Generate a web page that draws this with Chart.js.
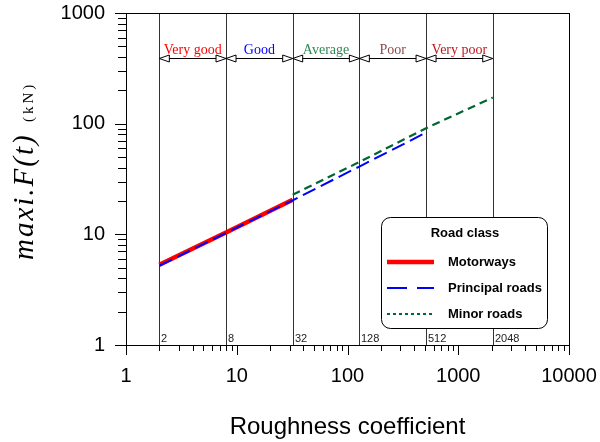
<!DOCTYPE html>
<html lang="en">
<head>
  <meta charset="UTF-8" />
  <title>Road class force vs roughness</title>
  <script src="https://cdn.jsdelivr.net/npm/chart.js@4.4.0/dist/chart.umd.min.js"></script>
  <style>
    body { margin: 0; background: #fff; }
    canvas { display: block; }
  </style>
</head>
<body>
  <canvas id="forceChart" width="600" height="442"></canvas>
  <script>
    // roughness class boundaries and names
    const bounds = [2, 8, 32, 128, 512, 2048];
    const classNames = ["Very good", "Good", "Average", "Poor", "Very poor"];
    const classColors = ["#ff0000", "#0000ff", "#2e8b57", "#8b4a4a", "#c0181e"];

    // series
    const motorX = [2, 8, 32];
    const motorY = [5.3, 10.4, 20.5];
    const principalX = [2, 8, 32, 128, 512];
    const principalY = [5.2, 10.3, 20.3, 41, 83];
    const minorX = [32, 128, 512, 2048];
    const minorY = [22.8, 45, 91, 172];

    const decadeTicks = [1, 10, 100, 1000, 10000];

    const pts = (xs, ys) => xs.map((x, i) => ({ x: x, y: ys[i] }));

    const SANS = "'Liberation Sans', Arial, sans-serif";
    const SERIF = "'Liberation Serif', 'Times New Roman', serif";

    const series = [
      { label: "Motorways", color: "#ff0000", width: 4.5, dash: [], legendDash: [], order: 3 },
      { label: "Principal roads", color: "#0000ff", width: 2, dash: [14, 6], legendDash: [20, 10], order: 1 },
      { label: "Minor roads", color: "#006633", width: 2.2, dash: [8, 5], legendDash: [3, 3], order: 2 }
    ];
    const seriesData = [pts(motorX, motorY), pts(principalX, principalY), pts(minorX, minorY)];

    const decorations = {
      id: "decorations",
      beforeDatasetsDraw(chart) {
        const { ctx, chartArea: a, scales: { x } } = chart;
        ctx.save();
        ctx.strokeStyle = "#333";
        ctx.lineWidth = 1;
        bounds.forEach(b => {
          const px = Math.round(x.getPixelForValue(b)) + 0.5;
          ctx.beginPath();
          ctx.moveTo(px, a.top);
          ctx.lineTo(px, a.bottom);
          ctx.stroke();
          ctx.fillStyle = "#222";
          ctx.font = "11px " + SANS;
          ctx.textAlign = "left";
          ctx.textBaseline = "alphabetic";
          ctx.fillText(String(b), px + 1.5, a.bottom - 3);
        });
        ctx.restore();
      },
      afterDatasetsDraw(chart) {
        const { ctx, chartArea: a, scales: { x, y } } = chart;
        ctx.save();
        // frame
        ctx.strokeStyle = "#000";
        ctx.lineWidth = 1;
        ctx.strokeRect(a.left + 0.5, a.top + 0.5, a.right - a.left, a.bottom - a.top);

        // ticks
        const tickX = (v, len) => {
          const px = Math.round(x.getPixelForValue(v)) + 0.5;
          ctx.beginPath(); ctx.moveTo(px, a.bottom); ctx.lineTo(px, a.bottom + len); ctx.stroke();
        };
        const tickY = (v, len) => {
          const py = Math.round(y.getPixelForValue(v)) + 0.5;
          ctx.beginPath(); ctx.moveTo(a.left, py); ctx.lineTo(a.left - len, py); ctx.stroke();
        };
        for (let d = 1; d <= 10000; d *= 10) {
          tickX(d, 10);
          if (d < 10000) for (let k = 2; k <= 9; k++) tickX(d * k, 6);
        }
        for (let d = 1; d <= 1000; d *= 10) {
          tickY(d, 11);
          if (d < 1000) for (let k = 2; k <= 9; k++) tickY(d * k, 8);
        }

        // class arrows
        const ay = Math.round(y.getPixelForValue(390)) + 0.5;
        const head = (tip, dir) => {
          ctx.beginPath();
          ctx.moveTo(tip, ay);
          ctx.lineTo(tip + dir * 10, ay - 3.5);
          ctx.lineTo(tip + dir * 10, ay + 3.5);
          ctx.closePath();
          ctx.fillStyle = "#fff";
          ctx.fill();
          ctx.stroke();
        };
        for (let i = 0; i < classNames.length; i++) {
          const x0 = x.getPixelForValue(bounds[i]);
          const x1 = x.getPixelForValue(bounds[i + 1]);
          ctx.strokeStyle = "#000";
          ctx.beginPath(); ctx.moveTo(x0, ay); ctx.lineTo(x1, ay); ctx.stroke();
          head(x0, 1);
          head(x1, -1);
          ctx.fillStyle = classColors[i];
          ctx.font = "14px " + SERIF;
          ctx.textAlign = "center";
          ctx.textBaseline = "alphabetic";
          ctx.fillText(classNames[i], (x0 + x1) / 2, ay - 5);
        }
        ctx.restore();
      },
      afterDraw(chart) {
        const { ctx } = chart;
        ctx.save();
        // y axis title
        ctx.translate(33, 260);
        ctx.rotate(-Math.PI / 2);
        ctx.fillStyle = "#000";
        ctx.textAlign = "left";
        ctx.textBaseline = "alphabetic";
        ctx.font = "italic 29px " + SERIF;
        ctx.letterSpacing = "2px";
        ctx.fillText("maxi.F(t)", 0, 0);
        ctx.font = "15px " + SERIF;
        ctx.letterSpacing = "3px";
        ctx.fillText("(kN)", 138, 0);
        ctx.restore();

        // legend box
        ctx.save();
        const bx = 381.5, by = 217.5, bw = 166, bh = 111;
        ctx.beginPath();
        ctx.roundRect(bx, by, bw, bh, 9);
        ctx.fillStyle = "#fff";
        ctx.fill();
        ctx.strokeStyle = "#000";
        ctx.lineWidth = 1;
        ctx.stroke();
        ctx.fillStyle = "#000";
        ctx.font = "bold 13px " + SANS;
        ctx.textAlign = "center";
        ctx.textBaseline = "middle";
        ctx.fillText("Road class", 465, 233);
        ctx.textAlign = "left";
        series.forEach((s, i) => {
          const ly = 262 + i * 26;
          ctx.strokeStyle = s.color;
          ctx.lineWidth = s.width;
          ctx.setLineDash(s.legendDash);
          ctx.beginPath(); ctx.moveTo(387, ly); ctx.lineTo(434, ly); ctx.stroke();
          ctx.setLineDash([]);
          ctx.fillStyle = "#000";
          ctx.fillText(s.label, 448, ly);
        });
        ctx.restore();
      }
    };

    new Chart(document.getElementById("forceChart"), {
      type: "line",
      data: {
        datasets: series.map((s, i) => ({
          label: s.label,
          data: seriesData[i],
          borderColor: s.color,
          borderWidth: s.width,
          borderDash: s.dash,
          pointRadius: 0,
          tension: 0,
          fill: false,
          order: s.order
        }))
      },
      options: {
        responsive: false,
        animation: false,
        devicePixelRatio: 1,
        layout: { padding: { top: 13, right: 31, left: 0, bottom: 0 } },
        plugins: { legend: { display: false }, tooltip: { enabled: false } },
        scales: {
          x: {
            type: "logarithmic",
            min: 1,
            max: 10000,
            grid: { display: false, drawTicks: false },
            border: { display: false },
            afterBuildTicks: s => { s.ticks = decadeTicks.map(v => ({ value: v })); },
            afterFit: s => { s.height = 97; s.paddingLeft = 0; s.paddingRight = 0; },
            ticks: {
              autoSkip: false,
              maxRotation: 0,
              padding: 19,
              color: "#000",
              font: { family: SANS, size: 20 },
              callback: v => String(v)
            },
            title: {
              display: true,
              text: "Roughness coefficient",
              color: "#000",
              font: { family: SANS, size: 24 },
              padding: { top: 0, bottom: 0 }
            }
          },
          y: {
            type: "logarithmic",
            min: 1,
            max: 1000,
            grid: { display: false, drawTicks: false },
            border: { display: false },
            afterBuildTicks: s => { s.ticks = decadeTicks.slice(0, 4).map(v => ({ value: v })); },
            afterFit: s => { s.width = 126; s.paddingTop = 0; s.paddingBottom = 0; },
            ticks: {
              autoSkip: false,
              padding: 21,
              color: "#000",
              font: { family: SANS, size: 20 },
              callback: v => String(v)
            }
          }
        }
      },
      plugins: [decorations]
    });
  </script>
</body>
</html>
